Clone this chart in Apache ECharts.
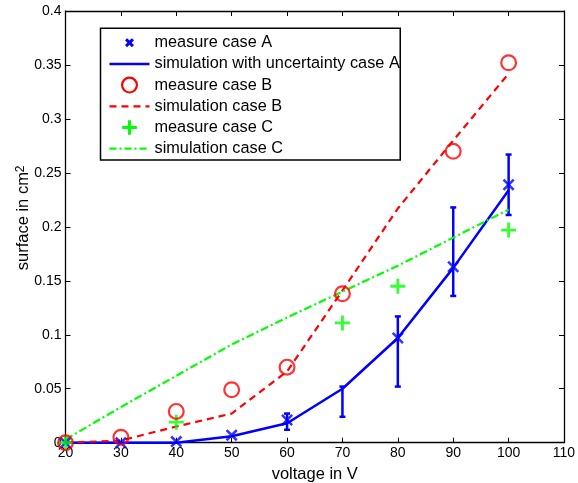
<!DOCTYPE html>
<html><head><meta charset="utf-8">
<script src="https://cdn.jsdelivr.net/npm/echarts@6/dist/echarts.min.js"></script>
<style>html,body{margin:0;padding:0;background:#fff}#c{width:578px;height:483px}</style>
</head><body><div id="c"></div><script>
const voltage = [20, 30, 40, 50, 60, 70, 80, 90, 100];
const xTicks = [20, 30, 40, 50, 60, 70, 80, 90, 100, 110];
const measureAX = [20, 30, 40, 50, 60, 80, 90, 100];
const measureAY = [0, 0, 0.001, 0.007, 0.021, 0.097, 0.163, 0.239];
const simA = [0, 0, 0, 0.006, 0.018, 0.05, 0.097, 0.162, 0.234];
const errAX = [60, 70, 80, 90, 100];
const errALow = [0.012, 0.024, 0.052, 0.136, 0.211];
const errAHigh = [0.027, 0.052, 0.117, 0.218, 0.267];
const measureBX = [20, 30, 40, 50, 60, 70, 90, 100];
const measureBY = [0, 0.005, 0.029, 0.049, 0.07, 0.138, 0.27, 0.352];
const simB = [0, 0.002, 0.015, 0.027, 0.066, 0.141, 0.217, 0.28, 0.342];
const measureCX = [20, 40, 70, 80, 100];
const measureCY = [0, 0.019, 0.111, 0.145, 0.197];
const simC = [0.003, 0.033, 0.062, 0.091, 0.116, 0.14, 0.164, 0.19, 0.216];
const names = ['measure case A', 'simulation with uncertainty case A', 'measure case B',
  'simulation case B', 'measure case C', 'simulation case C'];

const BLUE = '#0000ff', RED = '#ff0000', GREEN = '#00ff00';
const FONT = 'Liberation Sans, Arial, Helvetica, sans-serif';

// ---- shape helpers (symbol geometry only) ----
function xShape(cx, cy, h, t) {
  const p = [[cx-h, cy-h+t],[cx-h+t, cy-h],[cx, cy-t],[cx+h-t, cy-h],[cx+h, cy-h+t],[cx+t, cy],
             [cx+h, cy+h-t],[cx+h-t, cy+h],[cx, cy+t],[cx-h+t, cy+h],[cx-h, cy+h-t],[cx-t, cy]];
  return 'M' + p.map(q => q[0] + ',' + q[1]).join(' L') + ' Z';
}
function plusShape(cx, cy, h, w) {
  return `M${cx-w},${cy-h} H${cx+w} V${cy-w} H${cx+h} V${cy+w} H${cx+w} V${cy+h} H${cx-w} V${cy+w} H${cx-h} V${cy-w} H${cx-w} Z`;
}
function ringShape(cx, cy, r, t) {
  const ri = r - t;
  return `M${cx},${cy-r} A${r},${r} 0 1,1 ${cx},${cy+r} A${r},${r} 0 1,1 ${cx},${cy-r} Z ` +
         `M${cx},${cy-ri} A${ri},${ri} 0 1,0 ${cx},${cy+ri} A${ri},${ri} 0 1,0 ${cx},${cy-ri} Z`;
}
function rects(segs, y, th) {
  return segs.map(s => `M${s[0]},${y-th/2} H${s[1]} V${y+th/2} H${s[0]} Z`).join(' ');
}
const LW = 40, LH = 17;
const legendBox = `M0,0 L0.01,0 L0,0.01 Z M${LW},${LH} L${LW-0.01},${LH} L${LW},${LH-0.01} Z `;

const symX = 'path://' + xShape(10, 10, 10, 3);
const symPlus = 'path://' + plusShape(10, 10, 10, 1.9);
const symRing = 'path://' + ringShape(10, 10, 10, 2.6);

const icoX = 'path://' + legendBox + xShape(20, 8.5, 4.5, 2.1);
const icoLineA = 'path://' + legendBox + rects([[0, 40]], 8.5, 2.5);
const icoRing = 'path://' + legendBox + ringShape(20, 8.5, 8.5, 2.2);
const icoDash = 'path://' + legendBox + rects([[0, 7], [12, 19], [24, 31], [36, 40]], 8.5, 2.2);
const icoPlus = 'path://' + legendBox + plusShape(20, 8.5, 7.35, 1.5);
const icoDashDot = 'path://' + legendBox + rects([[0, 7], [10, 12], [15, 22], [25, 27], [30, 37]], 8.5, 2.2);

const zip = (a, b) => a.map((v, i) => [v, b[i]]);

const chart = echarts.init(document.getElementById('c'), null, {renderer: 'canvas'});
const axisLine = {show: true, onZero: false, lineStyle: {color: '#000', width: 1.3}};
const tick = {show: true, inside: true, length: 5, lineStyle: {color: '#000', width: 1}};
const li = (name, icon, color) => ({name, icon, itemStyle: {color, borderWidth: 0, opacity: 1}});
chart.setOption({
  animation: false,
  backgroundColor: '#fff',
  textStyle: {fontFamily: FONT},
  grid: {left: 65.5, right: 14, top: 11, bottom: 40.3, containLabel: false, outerBoundsMode: 'none'},
  legend: {
    orient: 'vertical', left: 100.5, top: 28.3,
    padding: [5.9, 0.5, 2.8, 9], itemGap: 4.2, itemWidth: LW, itemHeight: LH,
    symbolKeepAspect: true,
    backgroundColor: '#fff', borderColor: '#000', borderWidth: 1.5, borderRadius: 0,
    textStyle: {fontSize: 16.3, color: '#000', fontFamily: FONT},
    data: [
      li(names[0], icoX, BLUE),
      li(names[1], icoLineA, BLUE),
      li(names[2], icoRing, RED),
      li(names[3], icoDash, RED),
      li(names[4], icoPlus, GREEN),
      li(names[5], icoDashDot, GREEN)
    ],
    selectedMode: false
  },
  xAxis: [
    {type: 'value', min: 20, max: 110, interval: 10, position: 'bottom',
     name: 'voltage in V', nameLocation: 'middle', nameGap: 23, nameMoveOverlap: false,
     nameTextStyle: {fontSize: 16.5, color: '#000', fontFamily: FONT},
     axisLine, axisTick: tick, splitLine: {show: false},
     axisLabel: {color: '#000', fontSize: 14, margin: 3, fontFamily: FONT,
       formatter: v => xTicks.includes(v) ? String(v) : ''}},
    {type: 'value', min: 20, max: 110, interval: 10, position: 'top',
     axisLine, axisTick: tick, splitLine: {show: false}, axisLabel: {show: false}}
  ],
  yAxis: [
    {type: 'value', min: 0, max: 0.4, interval: 0.05, position: 'left',
     name: '{a|surface in cm}{s|2}', nameLocation: 'middle', nameGap: 33, nameRotate: 90,
     nameMoveOverlap: false,
     nameTextStyle: {color: '#000', fontFamily: FONT, padding: [0, 0, 0, 18],
       rich: {a: {fontSize: 16.5, color: '#000', fontFamily: FONT, lineHeight: 18},
              s: {fontSize: 12, color: '#000', fontFamily: FONT, lineHeight: 12, verticalAlign: 'top'}}},
     axisLine, axisTick: tick, splitLine: {show: false},
     axisLabel: {color: '#000', fontSize: 14, margin: 4, fontFamily: FONT,
       formatter: v => String(+v.toFixed(2))}},
    {type: 'value', min: 0, max: 0.4, interval: 0.05, position: 'right',
     axisLine, axisTick: tick, splitLine: {show: false}, axisLabel: {show: false}}
  ],
  series: [
    {name: 'errA', type: 'custom', z: 3,
     data: errAX.map((x, i) => [x, errALow[i], errAHigh[i]]),
     renderItem: (params, api) => {
       const lo = api.coord([api.value(0), api.value(1)]);
       const hi = api.coord([api.value(0), api.value(2)]);
       const w = 3;
       const st = {stroke: BLUE, lineWidth: 2.5};
       return {type: 'group', children: [
         {type: 'line', shape: {x1: lo[0], y1: lo[1], x2: hi[0], y2: hi[1]}, style: st},
         {type: 'line', shape: {x1: lo[0] - w, y1: lo[1], x2: lo[0] + w, y2: lo[1]}, style: st},
         {type: 'line', shape: {x1: hi[0] - w, y1: hi[1], x2: hi[0] + w, y2: hi[1]}, style: st}
       ]};
     }},
    {name: names[0], type: 'scatter', z: 4, data: zip(measureAX, measureAY),
     symbol: symX, symbolSize: 12, itemStyle: {color: BLUE}},
    {name: names[1], type: 'line', z: 3, data: zip(voltage, simA), symbol: 'none',
     lineStyle: {color: BLUE, width: 2.5}, itemStyle: {color: BLUE}},
    {name: names[2], type: 'scatter', z: 5, data: zip(measureBX, measureBY),
     symbol: symRing, symbolSize: 17, itemStyle: {color: RED}},
    {name: names[3], type: 'line', z: 3, data: zip(voltage, simB), symbol: 'none',
     lineStyle: {color: RED, width: 2.2, type: [7, 5]}, itemStyle: {color: RED}},
    {name: names[4], type: 'scatter', z: 4, data: zip(measureCX, measureCY),
     symbol: symPlus, symbolSize: 15, itemStyle: {color: GREEN}},
    {name: names[5], type: 'line', z: 3, data: zip(voltage, simC), symbol: 'none',
     lineStyle: {color: GREEN, width: 2.2, type: [8, 3, 2, 3]}, itemStyle: {color: GREEN}}
  ]
});
</script></body></html>
